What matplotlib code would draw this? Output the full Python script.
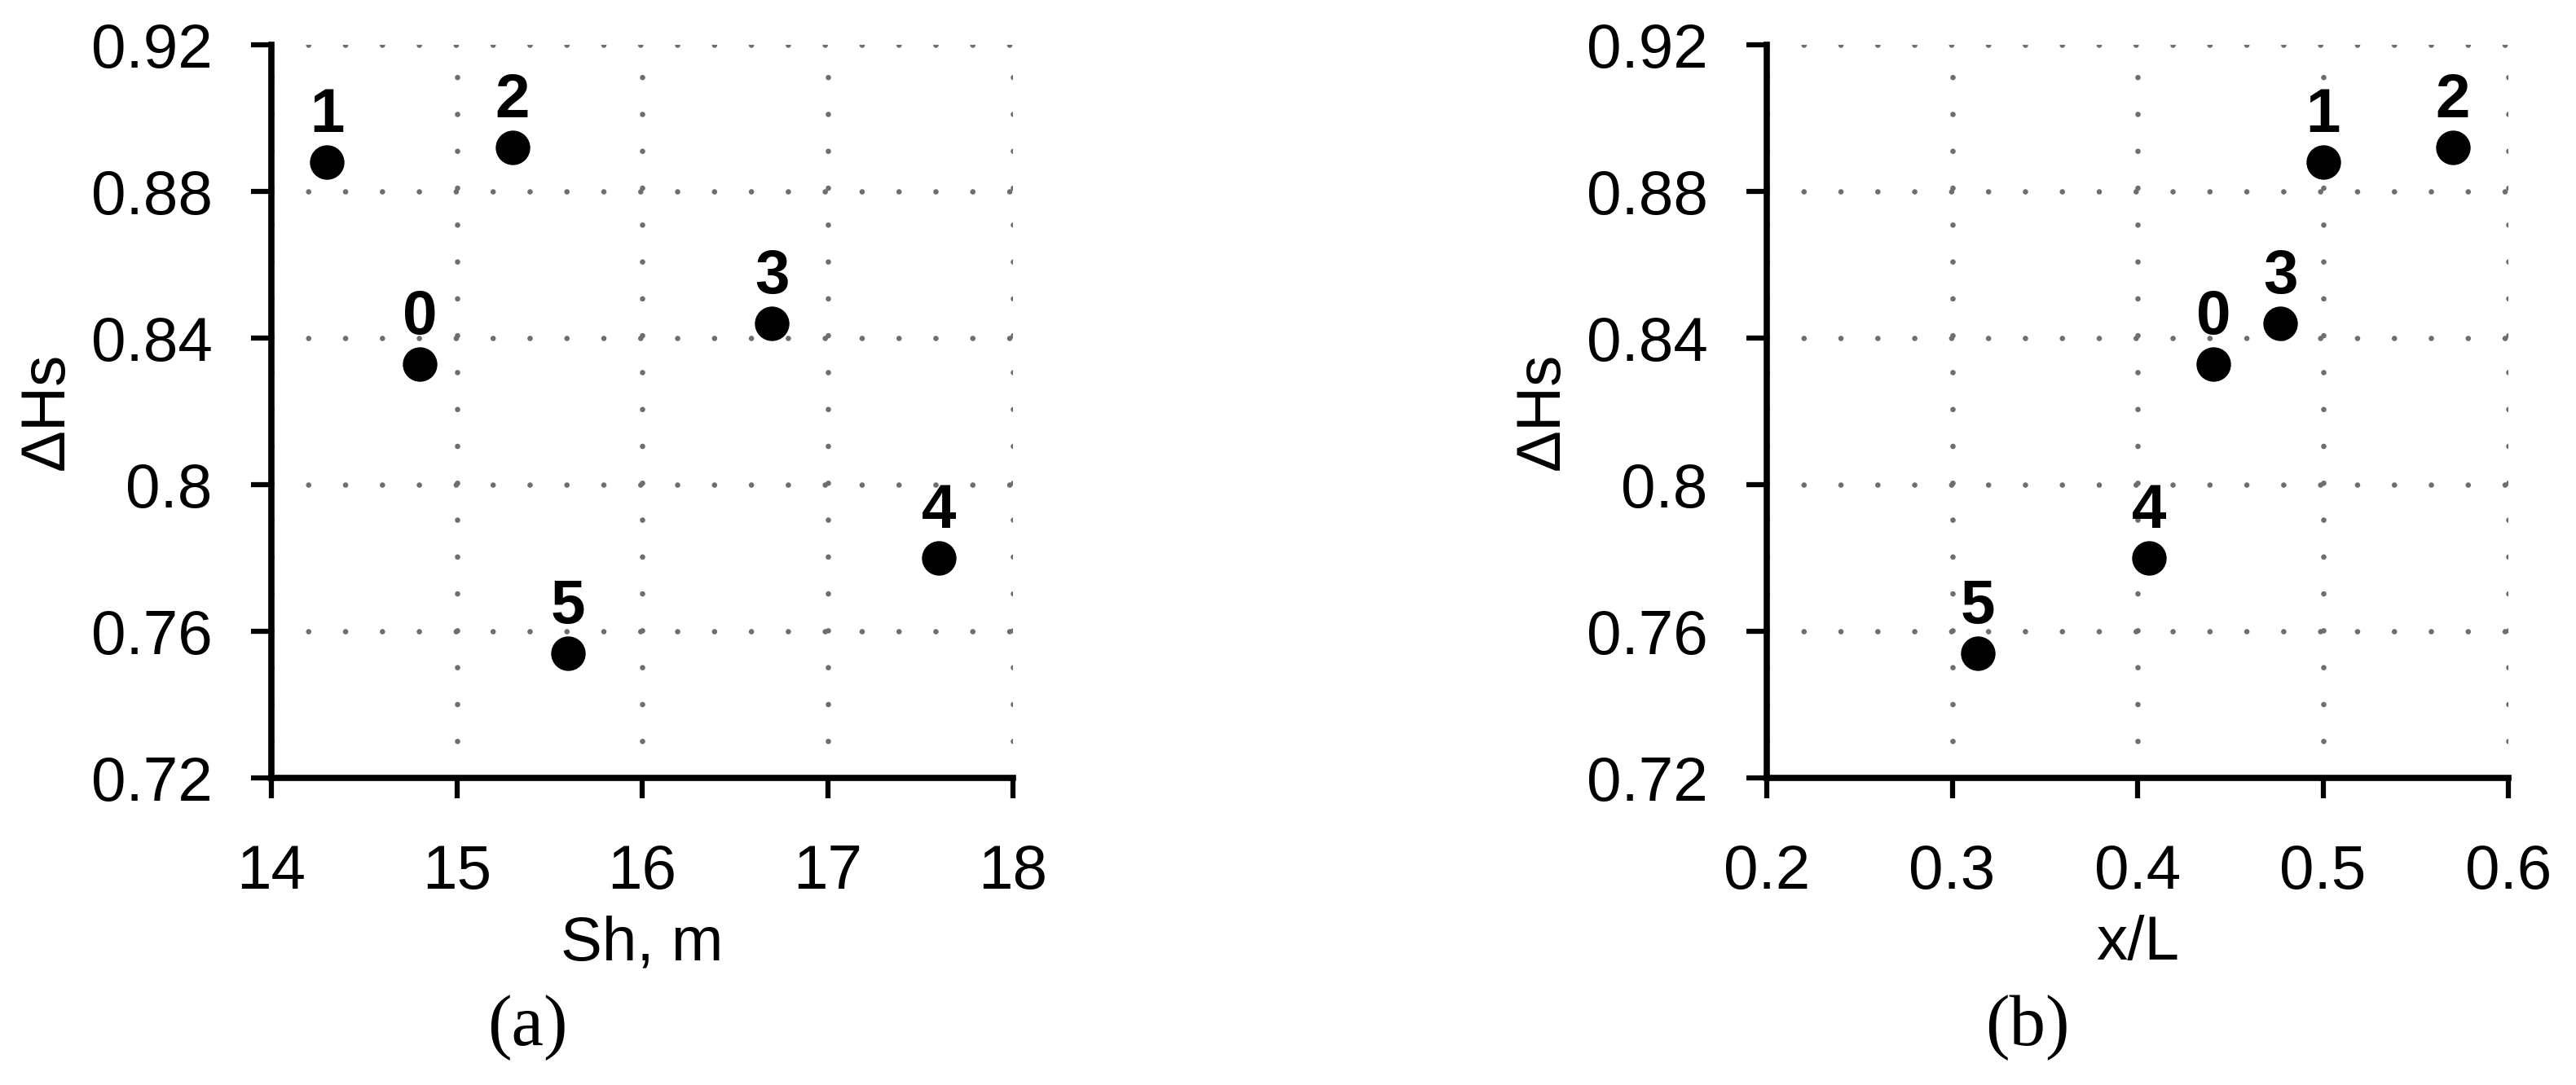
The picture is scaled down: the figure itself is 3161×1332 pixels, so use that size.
import matplotlib
matplotlib.use("Agg")
import matplotlib.pyplot as plt

# ---- data ----
point_labels = ["0", "1", "2", "3", "4", "5"]
dHs = [0.833, 0.888, 0.892, 0.844, 0.780, 0.754]
Sh_m = [14.8, 14.3, 15.3, 16.7, 17.6, 15.6]
x_over_L = [0.441, 0.500, 0.570, 0.477, 0.406, 0.314]

y_ticks = [0.72, 0.76, 0.80, 0.84, 0.88, 0.92]
y_ticklabels = ["0.72", "0.76", "0.8", "0.84", "0.88", "0.92"]
xa_ticks = [14, 15, 16, 17, 18]
xa_ticklabels = ["14", "15", "16", "17", "18"]
xb_ticks = [0.2, 0.3, 0.4, 0.5, 0.6]
xb_ticklabels = ["0.2", "0.3", "0.4", "0.5", "0.6"]

W, H = 3161, 1332
DPI = 100
fig = plt.figure(figsize=(W / DPI, H / DPI), dpi=DPI)

SANS = "Liberation Sans"
SERIF = "Liberation Serif"

ax_h = 900 / H
ax_w = 910 / W
ax_b = (H - 955) / H
axes_specs = [
    (333 / W, Sh_m, xa_ticks, xa_ticklabels, (14, 18), "Sh, m", 647, "(a)"),
    (2168 / W, x_over_L, xb_ticks, xb_ticklabels, (0.2, 0.6), "x/L", 2488, "(b)"),
]

GRID_LW = 4.8
GRID_PERIOD_PT = 32.6

for x0, xs, xt, xtl, xlim, xlabel, cap_x, cap in axes_specs:
    ax = fig.add_axes([x0, ax_b, ax_w, ax_h])
    ax.set_xlim(*xlim)
    ax.set_ylim(0.72, 0.92)
    ax.set_xticks(xt)
    ax.set_xticklabels(xtl)
    ax.set_yticks(y_ticks)
    ax.set_yticklabels(y_ticklabels)
    for s in ["top", "right"]:
        ax.spines[s].set_visible(False)
    for s in ["left", "bottom"]:
        ax.spines[s].set_linewidth(5.5)
        ax.spines[s].set_color("black")
    ax.tick_params(axis="both", direction="out", length=18, width=4.5, color="black")
    ax.tick_params(axis="x", pad=40, labelsize=55)
    ax.tick_params(axis="y", pad=34, labelsize=55)
    for lab in ax.get_xticklabels() + ax.get_yticklabels():
        lab.set_fontfamily(SANS)

    ax.set_axisbelow(True)
    ax.grid(True, color="#6e6e6e", linewidth=GRID_LW,
            linestyle=(0, (0.001, GRID_PERIOD_PT / GRID_LW - 0.001)))
    for gl in ax.get_xgridlines() + ax.get_ygridlines():
        gl.set_dash_capstyle("round")

    ax.plot(xs, dHs, linestyle="none", marker="o", markersize=29.5,
            color="black", zorder=5, clip_on=False)
    for lbl, xv, yv in zip(point_labels, xs, dHs):
        ax.annotate(lbl, (xv, yv), xytext=(0, 26.6), textcoords="offset points",
                    ha="center", va="baseline", fontsize=55, fontweight="bold",
                    family=SANS, color="black", zorder=6)

    ax.set_xlabel(xlabel, fontsize=55, family=SANS)
    ax.xaxis.label.set_verticalalignment("baseline")
    ax.xaxis.set_label_coords(0.5, (955 - 1178) / 900)

    ax.set_ylabel("ΔHs", fontsize=55, family=SANS)
    ax.yaxis.label.set_verticalalignment("baseline")
    ax.yaxis.set_label_coords((78 - 333) / 910, 0.5)

    fig.text(cap_x / W, 1 - 1262 / H, cap, ha="center", va="center",
             fontsize=64, family=SERIF)

fig.savefig("out.png", dpi=DPI, facecolor="white")
